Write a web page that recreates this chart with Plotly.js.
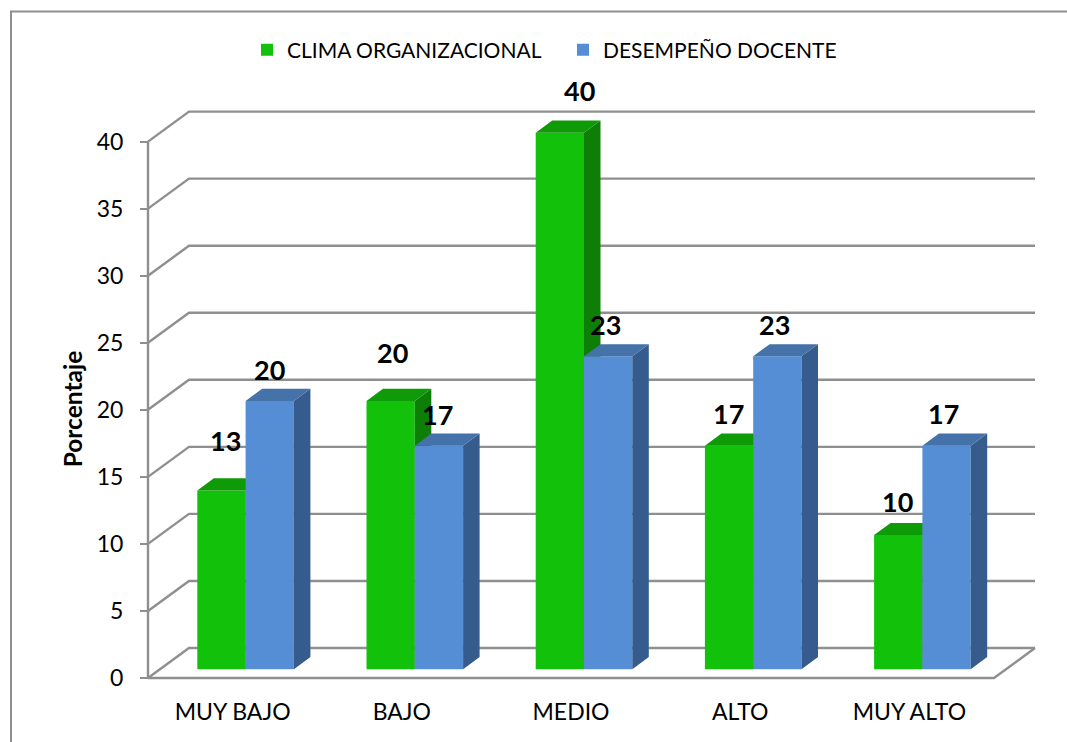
<!DOCTYPE html>
<html>
<head>
<meta charset="utf-8">
<script src="https://cdn.plot.ly/plotly-3.0.1.min.js"></script>
<style>html,body{margin:0;padding:0;background:#fff}#chart{width:1067px;height:742px}</style>
</head>
<body>
<div id="chart"></div>
<script>
// Data
const categories = ['MUY BAJO', 'BAJO', 'MEDIO', 'ALTO', 'MUY ALTO'];
const clima = [13.33, 20, 40, 16.67, 10];
const desempeno = [20, 16.67, 23.33, 23.33, 16.67];
const climaName = 'CLIMA ORGANIZACIONAL';
const desempenoName = 'DESEMPEÑO DOCENTE';
const yTicks = [0, 5, 10, 15, 20, 25, 30, 35, 40];

// Label nudges in pixels, as placed in the reference
const climaLabelDx = [4, 2, 20, -1, -1];
const climaLabelUp = [50, 49, 42, 32, 34];
const desempenoLabelDx = [0, -1, -3, -3, -3];
const desempenoLabelUp = [32, 31, 32, 32, 32];

// Geometry: pixel frame of the plot and the data scale
const W = 1067, H = 742;
const L = 140, R = 1040, T = 105, B = 713;
const pxPerCat = 169.2, pxPerVal = 13.41;
const x0Px = 232.6, y0Px = 678;
const xRange = [(L - x0Px) / pxPerCat, (R - x0Px) / pxPerCat];
const yRange = [(y0Px - B) / pxPerVal, (y0Px - T) / pxPerVal];
const wallDx = 41 / pxPerCat, wallDy = 30 / pxPerVal;
const barW = 48.3 / pxPerCat, barShiftX = 13 / pxPerCat, barBase = 8.8 / pxPerVal;
const depthDx = 16.5 / pxPerCat, depthDy = 12.2 / pxPerVal;
const xLeft = -0.5, xRight = categories.length - 0.5;

const colors = {
  green: {front: '#12C10A', top: '#0F9A08', side: '#0D7F06'},
  blue: {front: '#558ED5', top: '#4472A9', side: '#355C8C'}
};
const grey = '#8F8F8F';
const font = 'Lato, "Open Sans", sans-serif';

function faces(values, center, c, xa, ya, name) {
  const tx = [], ty = [], sx = [], sy = [];
  values.forEach((v, i) => {
    const xl = center(i) - barW / 2, xr = center(i) + barW / 2;
    const yb = barBase, yt = barBase + v;
    tx.push(xl, xr, xr + depthDx, xl + depthDx, xl, null);
    ty.push(yt, yt, yt + depthDy, yt + depthDy, yt, null);
    sx.push(xr, xr + depthDx, xr + depthDx, xr, xr, null);
    sy.push(yb, yb + depthDy, yt + depthDy, yt, yb, null);
  });
  const poly = (x, y, col, part) => ({
    type: 'scatter', mode: 'lines', x, y, xaxis: xa, yaxis: ya, fill: 'toself', fillcolor: col,
    line: {width: 0, color: col}, hoverinfo: 'skip', showlegend: false, name: name + ' ' + part
  });
  return [poly(sx, sy, c.side, 'lateral'), poly(tx, ty, c.top, 'superior')];
}

const greenCenter = i => i + barShiftX - barW / 2;
const blueCenter = i => i + barShiftX + barW / 2;
const xs = categories.map((_, i) => i);

const bar = (values, center, col, name, xa, ya) => ({
  type: 'bar', x: xs.map(center), y: values, base: values.map(() => barBase), width: barW,
  marker: {color: col, line: {width: 0}}, name, xaxis: xa, yaxis: ya,
  hovertemplate: '%{customdata}: %{y:.0f}<extra>' + name + '</extra>', customdata: categories
});

const traces = [
  bar(clima, greenCenter, colors.green.front, climaName, 'x', 'y'),
  ...faces(clima, greenCenter, colors.green, 'x', 'y', climaName),
  bar(desempeno, blueCenter, colors.blue.front, desempenoName, 'x2', 'y2'),
  ...faces(desempeno, blueCenter, colors.blue, 'x2', 'y2', desempenoName)
];

const lineStyle = {color: grey, width: 2.4};
const shapes = [];
// Back wall gridlines with their diagonal on the side wall
yTicks.forEach(v => {
  shapes.push({type: 'path', xref: 'x', yref: 'y', layer: 'below', line: lineStyle,
    path: `M ${xLeft} ${v} L ${xLeft + wallDx} ${v + wallDy} L ${xRight + wallDx} ${v + wallDy}`});
});
// Floor and value axis
shapes.push({type: 'path', xref: 'x', yref: 'y', layer: 'below', line: lineStyle,
  path: `M ${xLeft} 0 L ${xRight} 0 L ${xRight + wallDx} ${wallDy}`});
shapes.push({type: 'line', xref: 'x', yref: 'y', layer: 'below', line: lineStyle,
  x0: xLeft, x1: xLeft, y0: 0, y1: yTicks[yTicks.length - 1]});
// Chart frame
const px = p => (p - L) / (R - L), py = p => (B - p) / (B - T);
shapes.push({type: 'path', xref: 'paper', yref: 'paper', line: {color: grey, width: 2},
  path: `M ${px(11)} ${py(742)} L ${px(11)} ${py(11.5)} L ${px(1067)} ${py(11.5)}`});

const label = (v, center, i, dx, up, xa, ya) => ({
  x: center(i), y: barBase + v, xref: xa, yref: ya, text: String(Math.round(v)), showarrow: false,
  xanchor: 'center', yanchor: 'middle', xshift: dx, yshift: up,
  font: {family: font, size: 27, color: '#000', weight: 700}
});
const annotations = [
  ...clima.map((v, i) => label(v, greenCenter, i, climaLabelDx[i], climaLabelUp[i], 'x', 'y')),
  ...desempeno.map((v, i) => label(v, blueCenter, i, desempenoLabelDx[i], desempenoLabelUp[i], 'x2', 'y2'))
];

const layout = {
  width: W, height: H,
  margin: {l: L, r: W - R, t: T, b: H - B, pad: 0},
  paper_bgcolor: '#fff', plot_bgcolor: 'rgba(0,0,0,0)',
  barmode: 'overlay', hovermode: 'closest',
  font: {family: font, color: '#000', size: 21},
  showlegend: true,
  legend: {orientation: 'h', x: px(247), xanchor: 'left', y: py(50), yanchor: 'middle',
    entrywidth: 271, entrywidthmode: 'pixels',
    font: {family: font, size: 21, color: '#000'}, bgcolor: 'rgba(0,0,0,0)', traceorder: 'normal'},
  xaxis: {range: xRange, anchor: 'free', position: (B - y0Px) / (B - T), tickmode: 'array',
    tickvals: xs, ticktext: categories, showgrid: false, zeroline: false, showline: false,
    ticks: '', ticklabelstandoff: 18, tickfont: {family: font, size: 23, color: '#000'}},
  yaxis: {range: yRange, anchor: 'free', position: px(148), side: 'left', tickmode: 'array',
    tickvals: yTicks, showgrid: false, zeroline: false, showline: false,
    ticks: 'outside', ticklen: 8, tickwidth: 2, tickcolor: grey, ticklabelstandoff: 12,
    tickfont: {family: font, size: 23, color: '#000'},
    title: {text: '<b>Porcentaje</b>', standoff: 6, font: {family: font, size: 24.5, color: '#000'}}},
  xaxis2: {range: xRange, overlaying: 'x', anchor: 'y2', visible: false},
  yaxis2: {range: yRange, overlaying: 'y', anchor: 'x2', visible: false},
  shapes, annotations
};

Plotly.newPlot('chart', traces, layout, {displayModeBar: false, responsive: false});
</script>
</body>
</html>
